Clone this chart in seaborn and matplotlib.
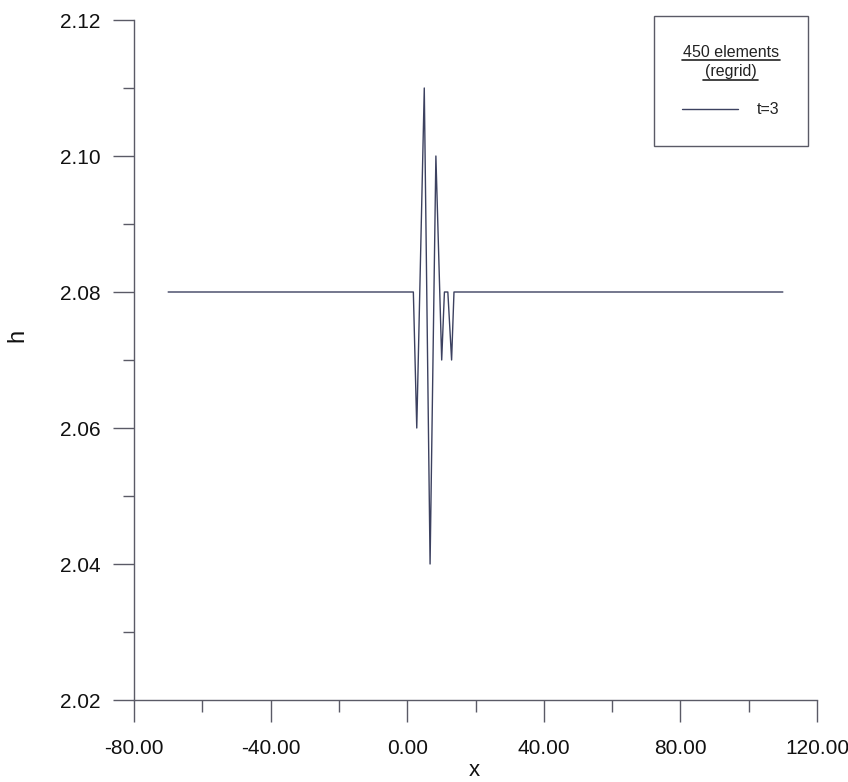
import matplotlib
matplotlib.use("Agg")
import matplotlib.pyplot as plt
import seaborn as sns
import pandas as pd
from matplotlib.lines import Line2D
from matplotlib.patches import Rectangle

# ---- data ----
x_vals = [-70.0, 1.8, 2.8, 5.0, 6.7, 8.4, 10.1, 10.9, 11.9, 13.0, 13.7, 110.0]
h_vals = [2.080, 2.080, 2.060, 2.110, 2.040, 2.100, 2.070, 2.080, 2.080, 2.070, 2.080, 2.080]
series_label = "t=3"
legend_title = ["450 elements", "(regrid)"]
x_major = [-80, -40, 0, 40, 80, 120]
x_minor = [-60, -20, 20, 60, 100]
y_major = [2.02, 2.04, 2.06, 2.08, 2.10, 2.12]
y_minor = [2.03, 2.05, 2.07, 2.09, 2.11]

df = pd.DataFrame({"x": x_vals, "h": h_vals})

sns.set_theme(style="ticks")
plt.rcParams["font.family"] = ["Liberation Sans", "DejaVu Sans"]

W, H = 848, 782
fig = plt.figure(figsize=(8.48, 7.82), dpi=100)
ax = fig.add_axes([134 / W, 1 - 700 / H, (817 - 134) / W, (700 - 20) / H])

line_color = "#3c4160"
sns.lineplot(data=df, x="x", y="h", ax=ax, color=line_color, linewidth=1.0,
             sort=False, estimator=None)

ax.set_xlim(-80, 120)
ax.set_ylim(2.02, 2.12)
ax.set_xticks(x_major)
ax.set_xticks(x_minor, minor=True)
ax.set_yticks(y_major)
ax.set_yticks(y_minor, minor=True)
ax.set_xticklabels([f"{v:.2f}" for v in x_major])
ax.set_yticklabels([f"{v:.2f}" for v in y_major])

spine_color = "#5a5a66"
for s in ["top", "right"]:
    ax.spines[s].set_visible(False)
for s in ["left", "bottom"]:
    ax.spines[s].set_color(spine_color)
    ax.spines[s].set_linewidth(1.0)

ax.tick_params(axis="y", which="major", direction="out", length=15, width=1,
               color=spine_color, labelsize=15, pad=9, labelcolor="#111111")
ax.tick_params(axis="y", which="minor", direction="out", length=8, width=1,
               color=spine_color)
ax.tick_params(axis="x", which="major", direction="out", length=16, width=1,
               color=spine_color, labelsize=15, pad=12, labelcolor="#111111")
ax.tick_params(axis="x", which="minor", direction="out", length=8.5, width=1,
               color=spine_color)

ax.set_xlabel("x", fontsize=16, color="#111111", va="baseline")
ax.set_ylabel("h", fontsize=17, color="#111111")
ax.xaxis.set_label_coords((474 - 134) / 683, (700 - 776) / 680)
ax.yaxis.set_label_coords((28 - 134) / 683, (700 - 335) / 680)

# ---- legend box (figure pixel coordinates converted to figure fraction) ----
def fx(px):
    return px / W
def fy(py):
    return 1 - py / H

fig.patches.append(Rectangle((fx(654), fy(146)), fx(808) - fx(654), fy(16) - fy(146),
                             transform=fig.transFigure, fill=False,
                             edgecolor=spine_color, linewidth=1.0))
fig.text(fx(731), fy(57), legend_title[0], ha="center", va="baseline", fontsize=11.5,
         color="#222222")
fig.text(fx(731), fy(76), legend_title[1], ha="center", va="baseline", fontsize=11.5,
         color="#222222")
fig.lines.append(Line2D([fx(682), fx(780)], [fy(60), fy(60)], transform=fig.transFigure,
                        color="#222222", linewidth=1.2))
fig.lines.append(Line2D([fx(703), fx(758)], [fy(80), fy(80)], transform=fig.transFigure,
                        color="#222222", linewidth=1.2))
fig.lines.append(Line2D([fx(682), fx(738)], [fy(109), fy(109)], transform=fig.transFigure,
                        color=line_color, linewidth=1.0))
fig.text(fx(757), fy(110), series_label, ha="left", va="center", fontsize=11.5,
         color="#222222")

fig.savefig("out.png", dpi=100)
